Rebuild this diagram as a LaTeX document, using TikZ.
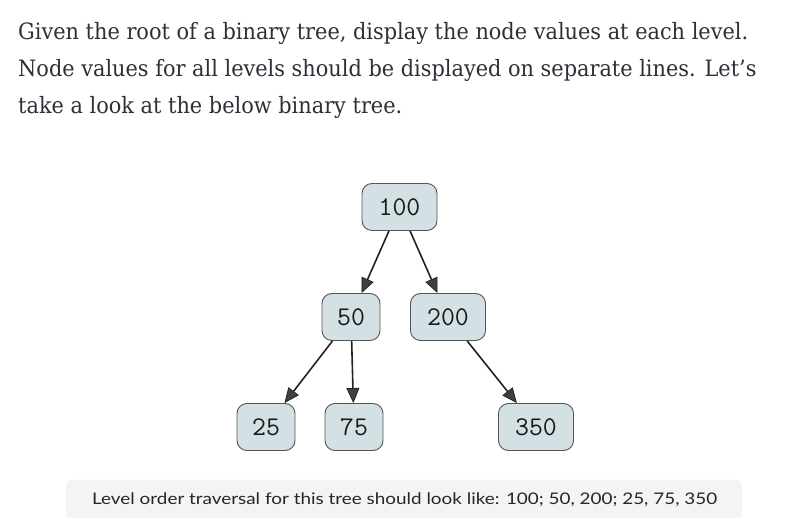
\documentclass[tikz,border=0pt]{standalone}
\usepackage{fontspec}
\usepackage{graphicx}
\usetikzlibrary{arrows.meta}
\newfontfamily\bodyserif{DejaVu Serif}
\newfontfamily\capsans{Lato}
\newfontfamily\treemono{Latin Modern Mono}
\definecolor{bodytext}{HTML}{2F2F38}
\definecolor{nodefill}{HTML}{D3E0E4}
\definecolor{nodeline}{HTML}{555555}
\definecolor{capfill}{HTML}{F4F4F4}
\definecolor{arrowcol}{HTML}{222222}
\definecolor{headcol}{HTML}{404040}
\newsavebox\lineonebox
\newsavebox\capbox
\begin{document}
\sbox\lineonebox{\bodyserif\fontsize{22.5pt}{27pt}\selectfont Given the root of a binary tree, display the node values at each level.}
\sbox\capbox{\capsans\fontsize{16pt}{19pt}\selectfont Level order traversal for this tree should look like: 100; 50, 200; 25, 75, 350}
\pgfmathsetmacro\sxbody{730/\wd\lineonebox}
\pgfmathsetmacro\sxcap{625/\wd\capbox}
\begin{tikzpicture}[x=1pt,y=-1pt,
  tn/.style={draw=nodeline, line width=0.9pt, fill=nodefill, rounded corners=10pt,
    minimum height=47pt, inner xsep=0pt, inner ysep=0pt,
    font=\treemono\fontsize{27pt}{30pt}\selectfont, text=black!90},
  tntwo/.style={tn, minimum width=58pt},
  tnthree/.style={tn, minimum width=75pt},
  edge/.style={draw=arrowcol, line width=1.6pt,
    -{Triangle[length=15pt,width=13pt,fill=headcol,line width=0.8pt]}},
  bodyline/.style={anchor=base west, inner sep=0pt, text=bodytext,
    font=\bodyserif\fontsize{22.5pt}{27pt}\selectfont},
  captext/.style={anchor=base west, inner sep=0pt, text=black!85,
    font=\capsans\fontsize{16pt}{19pt}\selectfont}
]
\useasboundingbox (0,0) rectangle (788,518);
\fill[white] (0,0) rectangle (788,518);

\node[bodyline] (l1) at (18,40) {\scalebox{\sxbody}[1]{Given the root of a binary tree, display the node values at each level.}};
\node[bodyline] (l2) at (18,77) {\scalebox{\sxbody}[1]{Node values for all levels should be displayed on separate lines. Let’s}};
\node[bodyline] (l3) at (18,114) {\scalebox{\sxbody}[1]{take a look at the below binary tree.}};

\node[tnthree] (n100) at (399.5,207) {100};
\node[tntwo]   (n50)  at (351,317) {50};
\node[tnthree] (n200) at (448,317) {200};
\node[tntwo]   (n25)  at (266,427) {25};
\node[tntwo]   (n75)  at (354,427) {75};
\node[tnthree] (n350) at (536,427) {350};

\draw[edge] (n100) -- (n50);
\draw[edge] (n100) -- (n200);
\draw[edge] (n50) -- (n25);
\draw[edge] (n50) -- (n75);
\draw[edge] (n200) -- (n350);

\fill[capfill, rounded corners=5pt] (66,480) rectangle (742,530);
\node[captext] (cap) at (92,505) {\scalebox{\sxcap}[1]{Level order traversal for this tree should look like: 100; 50, 200; 25, 75, 350}};
\end{tikzpicture}
\end{document}
